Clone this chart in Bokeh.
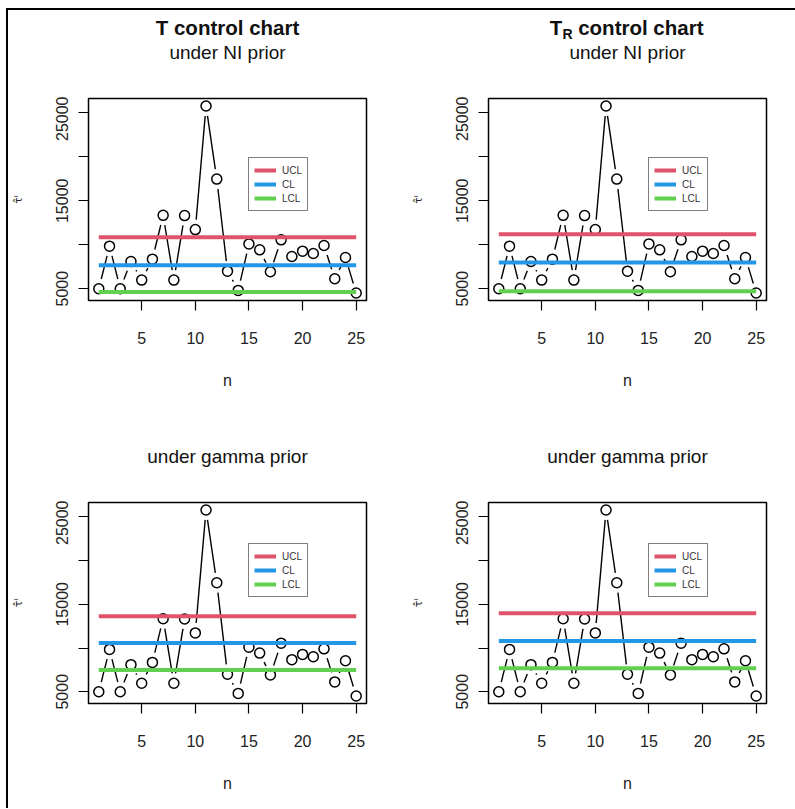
import math
from bokeh.plotting import figure
from bokeh.layouts import gridplot
from bokeh.models import Label, FixedTicker, Range1d
from bokeh.embed import file_html
from bokeh.resources import INLINE

# ---------------- data ----------------
n = list(range(1, 26))
tau_hat = [5000, 9840, 5000, 8100, 5980, 8360, 13350, 5980, 13320, 11730,
           25790, 17470, 7000, 4810, 10100, 9420, 6930, 10560, 8670, 9270,
           9000, 9910, 6130, 8550, 4510]

panel_main = ["T control chart", "T_R control chart", "", ""]
panel_sub = ["under NI prior", "under NI prior", "under gamma prior", "under gamma prior"]
ucl = [10860, 11200, 13640, 13980]
cl = [7680, 7990, 10570, 10800]
lcl = [4620, 4700, 7500, 7690]

x_ticks = [5, 10, 15, 20, 25]
y_ticks = [5000, 10000, 15000, 20000, 25000]
y_tick_labels = ["5000", "", "15000", "", "25000"]

RED, BLUE, GREEN = "#DF536B", "#2297E6", "#61D04F"
FONT = "Liberation Sans"
TXT = "#111111"


def padded(lo, hi, f=0.04):
    d = (hi - lo) * f
    return lo - d, hi + d


def gapped(xs, ys, xr, yr, fw, fh, gap=10.0):
    sx = fw / (xr[1] - xr[0])
    sy = fh / (yr[1] - yr[0])
    x0, y0, x1, y1 = [], [], [], []
    for i in range(len(xs) - 1):
        dx = (xs[i + 1] - xs[i]) * sx
        dy = (ys[i + 1] - ys[i]) * sy
        L = math.hypot(dx, dy)
        if L <= 2 * gap + 1:
            continue
        t = gap / L
        x0.append(xs[i] + (xs[i + 1] - xs[i]) * t)
        y0.append(ys[i] + (ys[i + 1] - ys[i]) * t)
        x1.append(xs[i + 1] - (xs[i + 1] - xs[i]) * t)
        y1.append(ys[i + 1] - (ys[i + 1] - ys[i]) * t)
    return x0, y0, x1, y1


def lab(y, text, size, bold=False, align="center", dx=0):
    return Label(x=0.5, y=y, x_offset=dx, text=text, text_align=align,
                 text_baseline="middle", text_font=FONT, text_font_size=size,
                 text_font_style="bold" if bold else "normal", text_color=TXT)


def make_title(k, width, height):
    # title strip above each panel; its frame lines up with the panel's frame
    t = figure(width=width, height=height, output_backend="svg", toolbar_location=None,
               x_range=Range1d(0, 1), y_range=Range1d(0, height),
               x_axis_location=None, y_axis_location=None, min_border=0)
    t.outline_line_color = None
    t.xgrid.visible = False
    t.ygrid.visible = False
    t.background_fill_color = "white"
    t.border_fill_color = "white"
    t.add_layout(lab(44, panel_sub[k], "19px"))
    main = panel_main[k]
    if main:
        if "_" in main:
            base, rest = main.split("_", 1)
            sub, tail = rest.split(" ", 1)
            wT, wR, wSp, wTail = 12.6, 10.1, 5.7, 127.0
            left = -(wT + wR + wSp + wTail) / 2
            t.add_layout(lab(69, base, "20.5px", True, "left", left))
            t.add_layout(lab(63, sub, "14px", True, "left", left + wT))
            t.add_layout(lab(69, tail, "20.5px", True, "left", left + wT + wR + wSp))
        else:
            t.add_layout(lab(69, main, "20.5px", True))
    return t


def make_panel(k, width, height, b_left, b_right, b_top, b_bottom):
    fw = width - b_left - b_right
    fh = height - b_top - b_bottom
    xr = padded(min(n), max(n))
    yr = padded(min(tau_hat), max(tau_hat))
    p = figure(width=width, height=height, output_backend="svg", toolbar_location=None,
               x_range=Range1d(*xr), y_range=Range1d(*yr),
               min_border_left=b_left, min_border_right=b_right,
               min_border_top=b_top, min_border_bottom=b_bottom)
    p.background_fill_color = "white"
    p.border_fill_color = "white"
    p.outline_line_color = "black"
    p.outline_line_width = 1.5
    p.xgrid.visible = False
    p.ygrid.visible = False

    for ax in (p.xaxis[0], p.yaxis[0]):
        ax.axis_line_color = None
        ax.major_tick_line_color = "black"
        ax.major_tick_line_width = 1.2
        ax.major_tick_in = 0
        ax.major_tick_out = 10
        ax.minor_tick_line_color = None
        ax.major_label_text_font = FONT
        ax.major_label_text_font_size = "16px"
        ax.major_label_text_color = "#222222"
        ax.axis_label_text_font_style = "normal"
        ax.axis_label_text_color = "#222222"
    p.xaxis.ticker = FixedTicker(ticks=x_ticks)
    p.xaxis.major_label_standoff = 21
    p.xaxis.axis_label = "n"
    p.xaxis.axis_label_text_font = FONT
    p.xaxis.axis_label_text_font_size = "16px"
    p.xaxis.axis_label_standoff = 25

    p.yaxis.ticker = FixedTicker(ticks=y_ticks)
    p.yaxis.major_label_overrides = {t: s for t, s in zip(y_ticks, y_tick_labels)}
    p.yaxis.major_label_orientation = "vertical"
    p.yaxis.major_label_standoff = 10
    p.yaxis.axis_label = "τ\u0302\u1D35"
    p.yaxis.axis_label_text_font = "DejaVu Sans"
    p.yaxis.axis_label_text_font_size = "11px"
    p.yaxis.axis_label_standoff = 29

    # data: points joined by lines with gaps (type="b")
    x0, y0, x1, y1 = gapped(n, tau_hat, xr, yr, fw, fh)
    p.segment(x0=x0, y0=y0, x1=x1, y1=y1, line_color="black", line_width=1.4)
    p.scatter(n, tau_hat, marker="circle", size=10, fill_color=None,
              line_color="black", line_width=1.5)

    # control limits
    for val, col, lb in ((ucl[k], RED, "UCL"), (cl[k], BLUE, "CL"), (lcl[k], GREEN, "LCL")):
        p.segment(x0=[n[0]], y0=[val], x1=[n[-1]], y1=[val], line_color=col,
                  line_width=4, legend_label=lb)

    lg = p.legend[0]
    lg.location = (160, 89) if k < 2 else (160, 106)
    lg.border_line_color = "black"
    lg.border_line_width = 1.5
    lg.background_fill_alpha = 1
    lg.label_text_font = FONT
    lg.label_text_font_size = "10px"
    lg.label_text_color = "#333333"
    lg.glyph_width = 22
    lg.glyph_height = 14
    lg.label_height = 14
    lg.label_standoff = 6
    lg.padding = 5
    lg.spacing = 0
    lg.margin = 0
    return p


TH = 86
t1 = make_title(0, 400, TH)
t2 = make_title(1, 387, TH)
t3 = make_title(2, 400, TH)
t4 = make_title(3, 387, TH)
p1 = make_panel(0, 400, 404 - TH, 80, 42, 2, 114)
p2 = make_panel(1, 387, 404 - TH, 80, 29, 2, 114)
p3 = make_panel(2, 400, 394 - TH, 80, 42, 2, 105)
p4 = make_panel(3, 387, 394 - TH, 80, 29, 2, 105)

grid = gridplot([[t1, t2], [p1, p2], [t3, t4], [p3, p4]], toolbar_location=None)
grid.styles = {"border-left": "2px solid black", "border-top": "2px solid black",
               "margin-left": "6px", "margin-top": "8px"}

open("out.html", "w").write(file_html(grid, INLINE))
